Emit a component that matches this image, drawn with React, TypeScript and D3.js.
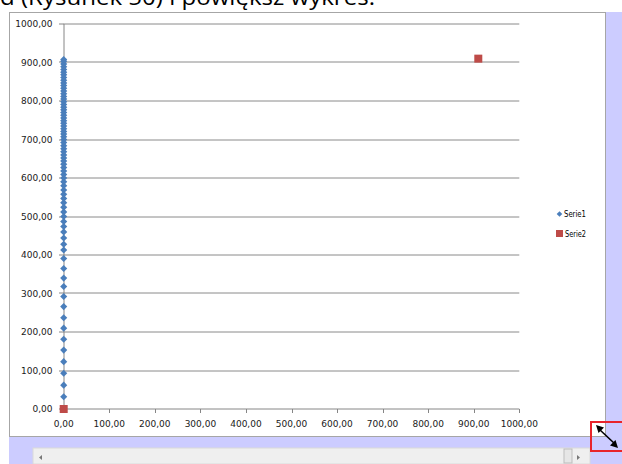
import React from "react";
import * as d3 from "d3";

const headerText = "d (Rysunek 50) i powiększ wykres.";
const seriesNames = ["Serie1", "Serie2"];
const seriesColors = ["#4A7EBB", "#BE4B48"];

// Serie1: x always 0, y values
const serie1Y = [
  32, 62, 93, 123, 153, 181, 210, 237, 266, 292, 318, 340, 365, 391, 413, 428,
  444, 460, 474, 487, 500, 512, 524, 536, 547, 558, 569, 580, 590, 600, 609,
  618, 627, 636, 644, 652, 660, 668, 676, 684, 692, 700, 707, 714, 721, 728,
  735, 742, 749, 756, 763, 770, 777, 784, 791, 798, 805, 812, 819, 826, 833,
  840, 847, 854, 861, 868, 875, 882, 889, 896, 903, 908,
];
const serie1X = serie1Y.map(() => 0);

// Serie2
const serie2X = [0, 910];
const serie2Y = [0, 910];

const xTicks = [0, 100, 200, 300, 400, 500, 600, 700, 800, 900, 1000];
const yTicks = [0, 100, 200, 300, 400, 500, 600, 700, 800, 900, 1000];

const fmt = (v: number) => v.toFixed(2).replace(".", ",");

export default function App() {
  const W = 622;
  const H = 464;
  const x = d3.scaleLinear().domain([0, 1000]).range([63.7, 519.3]);
  const y = d3.scaleLinear().domain([0, 1000]).range([409, 24]);
  const font = "'DejaVu Sans', 'Liberation Sans', Arial, sans-serif";
  const diamond = d3.symbol().type(d3.symbolDiamond2).size(32)();
  const legendDiamond = d3.symbol().type(d3.symbolDiamond2).size(20)();

  return (
    <svg
      width={W}
      height={H}
      style={{ position: "absolute", left: 0, top: 0, background: "#fff" }}
    >
      {/* background pieces around the chart frame */}
      <rect x={0} y={0} width={W} height={H} fill="#ffffff" />
      <rect x={606} y={12} width={16} height={452} fill="#CCCCFF" />
      <rect x={9} y={437} width={613} height={27} fill="#CCCCFF" />
      {/* scrollbar */}
      <rect x={33} y={448} width={557} height={16} fill="#EFEFEF" stroke="#DADADA" />
      <path d="M42,455 L39,457.5 L42,460 Z" fill="#777" />
      <rect x={564} y={449} width={8} height={14} fill="#E6E6E6" stroke="#BDBDBD" />
      <path d="M577,455 L580,457.5 L577,460 Z" fill="#777" />

      {/* header text (cut at top, as in the source screenshot) */}
      <text
        x={0}
        y={5}
        fontFamily="'Open Sans', 'Noto Sans', sans-serif"
        fontSize={21}
        fill="#000"
        textLength={375}
        lengthAdjust="spacingAndGlyphs"
      >
        {headerText}
      </text>

      {/* chart frame */}
      <rect x={9.5} y={12.5} width={596} height={424} fill="#fff" stroke="#A6A6A6" />

      {/* gridlines */}
      {yTicks
        .filter((t) => t > 0)
        .map((t) => (
          <line
            key={"g" + t}
            x1={x(0)}
            x2={x(1000)}
            y1={Math.round(y(t))}
            y2={Math.round(y(t))}
            stroke="#8A8A8A"
            strokeWidth={1}
          />
        ))}

      {/* axes */}
      <line x1={64} x2={64} y1={y(1000)} y2={y(0)} stroke="#868686" />
      <line x1={x(0)} x2={x(1000)} y1={409} y2={409} stroke="#868686" />
      {yTicks.map((t) => (
        <line key={"yt" + t} x1={59} x2={64} y1={Math.round(y(t))} y2={Math.round(y(t))} stroke="#868686" />
      ))}
      {xTicks.map((t) => (
        <line key={"xt" + t} x1={Math.round(x(t)) + 0.5} x2={Math.round(x(t)) + 0.5} y1={409} y2={413} stroke="#868686" />
      ))}

      {/* tick labels */}
      {yTicks.map((t) => (
        <text
          key={"yl" + t}
          x={52.5}
          y={y(t) + 3.4}
          textAnchor="end"
          fontFamily={font}
          fontSize={9}
          fill="#1a1a1a"
        >
          {fmt(t)}
        </text>
      ))}
      {xTicks.map((t) => (
        <text
          key={"xl" + t}
          x={x(t)}
          y={427}
          textAnchor="middle"
          fontFamily={font}
          fontSize={9}
          fill="#1a1a1a"
        >
          {fmt(t)}
        </text>
      ))}

      {/* Serie1 */}
      {serie1Y.map((v, i) => (
        <path
          key={"s1" + i}
          d={diamond || ""}
          transform={`translate(${x(serie1X[i])},${y(v)})`}
          fill={seriesColors[0]}
        />
      ))}
      {/* Serie2 */}
      {serie2Y.map((v, i) => (
        <rect
          key={"s2" + i}
          x={x(serie2X[i]) - 4}
          y={y(v) - 4}
          width={8}
          height={8}
          fill={seriesColors[1]}
        />
      ))}

      {/* legend */}
      <path d={legendDiamond || ""} transform="translate(559.5,214)" fill={seriesColors[0]} />
      <text x={564} y={217} fontFamily={font} fontSize={8.5} fill="#000" textLength={22} lengthAdjust="spacingAndGlyphs">
        {seriesNames[0]}
      </text>
      <rect x={556} y={230} width={7} height={7} fill={seriesColors[1]} />
      <text x={565} y={236.5} fontFamily={font} fontSize={8.5} fill="#000" textLength={21} lengthAdjust="spacingAndGlyphs">
        {seriesNames[1]}
      </text>

      {/* resize handle highlight */}
      <rect x={591} y={422} width={32} height={29} fill="none" stroke="#E8242B" strokeWidth={2} />
      <line x1={599} y1={429} x2={615} y2={444} stroke="#000" strokeWidth={1.6} />
      <path d="M596,425 L604,427.5 L598.5,433 Z" fill="#000" />
      <path d="M618,448 L610,445.5 L615.5,440 Z" fill="#000" />
    </svg>
  );
}
